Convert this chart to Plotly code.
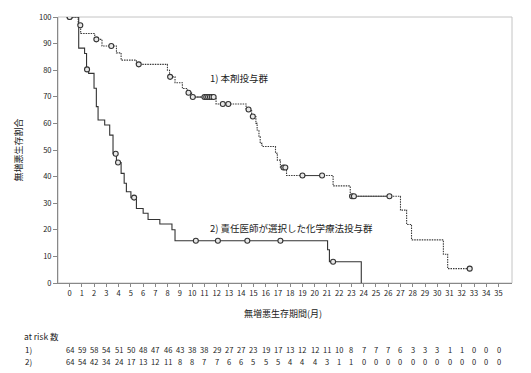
import plotly.graph_objects as go

# ---- data ----
months = list(range(0, 36))

# Group 1 (本剤投与群) Kaplan-Meier steps: time, survival after step
g1_t = [0, 0.7, 0.9, 2.05, 2.64, 3.82, 4.2, 5.45, 7.98, 8.15, 8.6, 9.2, 9.6, 9.95,
        11.95, 14.4, 14.85, 15.2, 15.3, 15.45, 15.55, 15.7, 16.8, 16.95, 17.2, 17.7,
        21.5, 22.9, 27.0, 27.5, 27.9, 30.5, 30.85, 32.65]
g1_s = [100, 96.9, 93.8, 91.6, 89.1, 86.5, 83.8, 82.2, 80.0, 77.5, 75.3, 73.1, 71.5, 69.9,
        67.3, 65.2, 62.6, 60.0, 57.5, 55.0, 52.5, 51.3, 48.8, 46.2, 43.4, 40.4,
        36.5, 32.6, 27.4, 22.0, 16.2, 10.8, 5.4, 5.4]
g1_cens_t = [0, 0.87, 2.18, 3.4, 5.64, 8.2, 9.7, 10.05, 11.0, 11.15, 11.3, 11.45, 11.6, 11.75,
             12.5, 12.95, 14.6, 14.95, 17.45, 17.6, 19.0, 20.6, 23.05, 23.2, 26.1, 32.65]
g1_cens_s = [100, 96.9, 91.6, 89.1, 82.2, 77.5, 71.5, 69.9, 69.9, 69.9, 69.9, 69.9, 69.9, 69.9,
             67.3, 67.3, 65.2, 62.6, 43.4, 43.4, 40.4, 40.4, 32.6, 32.6, 32.6, 5.4]

# Group 2 (責任医師が選択した化学療法投与群)
g2_t = [0, 0.74, 1.22, 1.38, 1.55, 1.99, 2.18, 2.32, 2.86, 3.27, 3.54, 3.82, 4.2, 4.45,
        4.63, 5.0, 5.45, 6.0, 6.4, 7.36, 8.35, 8.6, 21.05, 21.2, 23.8]
g2_s = [100, 88.3, 86.3, 80.3, 78.8, 73.2, 66.3, 61.3, 59.4, 55.6, 48.6, 45.3, 41.2, 37.5,
        34.3, 32.1, 28.0, 26.2, 23.9, 22.2, 20.0, 15.9, 12.5, 8.0, 0]
g2_cens_t = [0, 1.42, 3.76, 3.95, 5.26, 10.3, 12.1, 14.5, 17.2, 21.5]
g2_cens_s = [100, 80.3, 48.6, 45.3, 32.1, 15.9, 15.9, 15.9, 15.9, 8.0]

risk1 = [64, 59, 58, 54, 51, 50, 48, 47, 46, 43, 38, 38, 29, 27, 27, 23, 19, 17, 13, 12,
         12, 11, 10, 8, 7, 7, 7, 6, 3, 3, 3, 1, 1, 0, 0, 0]
risk2 = [64, 54, 42, 34, 24, 17, 13, 12, 11, 8, 8, 7, 7, 6, 6, 5, 5, 5, 4, 4,
         4, 3, 1, 1, 0, 0, 0, 0, 0, 0, 0, 0, 0, 0, 0, 0]

label1 = "1) 本剤投与群"
label2 = "2) 責任医師が選択した化学療法投与群"
xtitle = "無増悪生存期間(月)"
ytitle = "無増悪生存割合"

FONT = "Noto Sans CJK JP"
W, H = 531, 373
L, R, T, B = 58, 19, 17, 90
PH = H - T - B

def py(p):
    return (H - B - p) / PH

fig = go.Figure()

fig.add_trace(go.Scatter(x=g1_t, y=g1_s, mode="lines", line_shape="hv",
                         line=dict(color="#3a3a3a", width=1.1, dash="1.5px,1px"),
                         hoverinfo="skip", showlegend=False))
fig.add_trace(go.Scatter(x=g2_t, y=g2_s, mode="lines", line_shape="hv",
                         line=dict(color="#333333", width=1.1),
                         hoverinfo="skip", showlegend=False))

# solid segments joining consecutive censor marks at the same level (group 1)
for i in range(len(g1_cens_t) - 1):
    if g1_cens_s[i] == g1_cens_s[i + 1] and g1_cens_t[i] > 0:
        fig.add_trace(go.Scatter(x=[g1_cens_t[i], g1_cens_t[i + 1]],
                                 y=[g1_cens_s[i], g1_cens_s[i + 1]], mode="lines",
                                 line=dict(color="#444444", width=1.1),
                                 hoverinfo="skip", showlegend=False))

for ct, cs in ((g1_cens_t, g1_cens_s), (g2_cens_t, g2_cens_s)):
    fig.add_trace(go.Scatter(x=ct, y=cs, mode="markers",
                             marker=dict(symbol="circle", size=5, color="#e8e8e8",
                                         line=dict(color="#333333", width=1.1)),
                             hoverinfo="skip", showlegend=False))

ann = []
ann.append(dict(x=11.3, y=77, xref="x", yref="y", text=label1, showarrow=False,
                xanchor="left", yanchor="middle", font=dict(size=9.5, color="#222")))
ann.append(dict(x=11.3, y=20.7, xref="x", yref="y", text=label2, showarrow=False,
                xanchor="left", yanchor="middle", font=dict(size=9.5, color="#222")))
ann.append(dict(x=(283 - L) / (W - L - R), y=py(313), xref="paper", yref="paper",
                text=xtitle, showarrow=False, xanchor="center", yanchor="middle",
                font=dict(size=9, color="#222")))
ann.append(dict(x=(22 - L) / (W - L - R), y=py(336), xref="paper", yref="paper",
                text="at risk 数", showarrow=False, xanchor="left", yanchor="middle",
                font=dict(size=8.5, color="#222")))
for lab, row, yy in (("1)", risk1, 349), ("2)", risk2, 361)):
    ann.append(dict(x=(23 - L) / (W - L - R), y=py(yy), xref="paper", yref="paper",
                    text=lab, showarrow=False, xanchor="left", yanchor="middle",
                    font=dict(size=8, color="#222")))
    for m, v in zip(months, row):
        ann.append(dict(x=m, y=py(yy), xref="x", yref="paper", text=str(v),
                        showarrow=False, xanchor="center", yanchor="middle",
                        font=dict(size=7.5, color="#222")))

fig.update_layout(
    width=W, height=H, margin=dict(l=L, r=R, t=T, b=B),
    paper_bgcolor="white", plot_bgcolor="white",
    font=dict(family=FONT, color="#222"),
    annotations=ann,
    shapes=[dict(type="rect", xref="paper", yref="paper", x0=0, y0=0, x1=1, y1=1,
                 line=dict(color="#c4c4c4", width=1), layer="below")],
    xaxis=dict(range=[-0.95, 36.1], tickvals=months, ticktext=[str(m) for m in months],
               showgrid=False, zeroline=False, showline=True, linecolor="#888888",
               linewidth=1, ticks="outside", ticklen=3, tickcolor="#888888",
               tickfont=dict(size=7.5, color="#222")),
    yaxis=dict(range=[0, 100], tickvals=list(range(0, 101, 10)),
               showgrid=False, zeroline=False, showline=True, linecolor="#888888",
               linewidth=1, ticks="outside", ticklen=4, tickcolor="#888888",
               tickfont=dict(size=7.5, color="#222"),
               title=dict(text=ytitle, font=dict(size=9, color="#222"), standoff=14)),
)

fig.write_html("out.html", config={"displayModeBar": False},
               post_script="document.body.style.margin='0';")
